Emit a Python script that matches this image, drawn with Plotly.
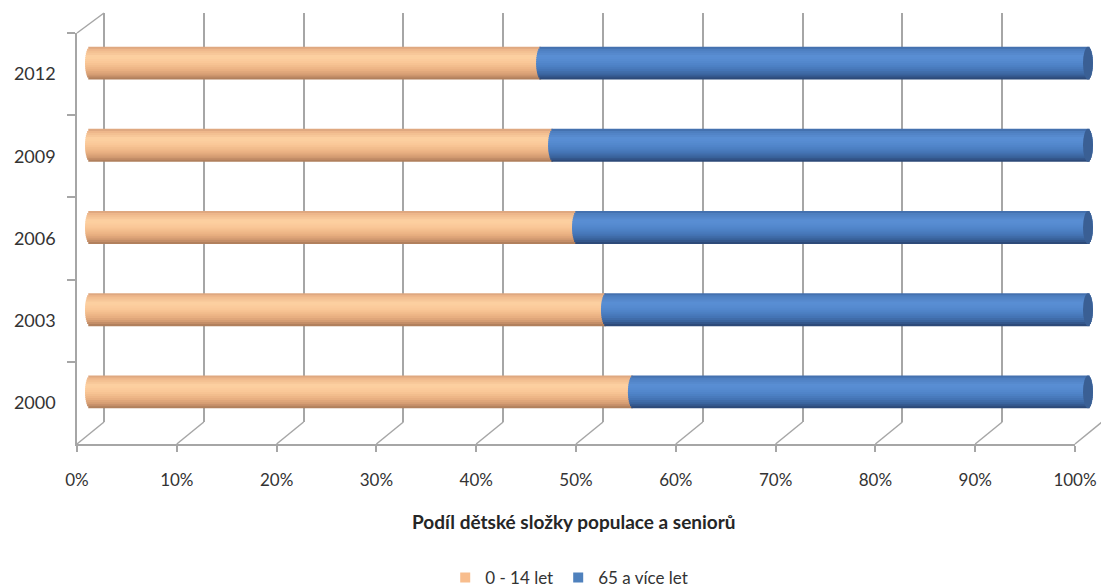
import plotly.graph_objects as go

# ---------------- data ----------------
years = ['2000', '2003', '2006', '2009', '2012']
children = [54.4, 51.7, 48.8, 46.4, 45.2]    # 0 - 14 let (% share)
seniors = [45.6, 48.3, 51.2, 53.6, 54.8]     # 65 a více let (% share)
series_names = ['0 - 14 let', '65 a více let']
x_tick_vals = [0, 10, 20, 30, 40, 50, 60, 70, 80, 90, 100]
x_tick_text = ['0%', '10%', '20%', '30%', '40%', '50%', '60%', '70%', '80%', '90%', '100%']
axis_title = 'Podíl dětské složky populace a seniorů'

# ---------------- style ----------------
W, H = 1101, 588
FONT = 'Lato'
TXT = '#333333'
GRID = '#a6a6a6'
BAR_W = 0.40      # bar thickness in category units
CAP = 0.5         # half width of the cylinder end ellipse (in % units)
NH = 8            # gradient stripes per half of the cylinder

ORANGE_STOPS = [(0.00, '#d8a07a'), (0.10, '#efb98c'), (0.30, '#fdd1a2'), (0.50, '#f9c696'),
                (0.70, '#ebb283'), (0.85, '#d49c72'), (1.00, '#a87858')]
BLUE_STOPS = [(0.00, '#3f6aa6'), (0.10, '#4f80c2'), (0.30, '#5a8fd5'), (0.50, '#5287cc'),
              (0.70, '#4677b8'), (0.85, '#3a639d'), (1.00, '#2a4470')]
LEGEND_COLORS = ['#f8bd8d', '#4f81bd']
CAP_COLOR = '#3a5f94'


def _rgb(h):
    return tuple(int(h[i:i + 2], 16) for i in (1, 3, 5))


def grad(stops, t):
    for (t0, c0), (t1, c1) in zip(stops, stops[1:]):
        if t0 <= t <= t1:
            f = (t - t0) / (t1 - t0)
            a, b = _rgb(c0), _rgb(c1)
            return 'rgb(%d,%d,%d)' % tuple(round(a[i] + (b[i] - a[i]) * f) for i in range(3))
    return stops[-1][1]


def ext(tm):
    u = 2 * tm - 1
    return CAP * max(0.0, 1 - u * u) ** 0.5


# stripes (offset, width, t_mid); t runs from the top edge (0) to the bottom edge (1)
step = 1.0 / (2 * NH)
ov = 0.5 * step
bands = []
for k in range(NH):                      # top half, drawn from the top edge towards the middle
    ta, tb = k * step, (k + 1) * step + ov
    bands.append((ta, tb, k * step + step / 2))
for j in range(NH):                      # bottom half, drawn from the bottom edge towards the middle
    tb = 1 - j * step
    ta = 1 - (j + 1) * step - (ov if j < NH - 1 else 0)
    bands.append((ta, tb, 1 - j * step - step / 2))
stripes = [(BAR_W / 2 - tb * BAR_W, (tb - ta) * BAR_W, tm) for ta, tb, tm in bands]

fig = go.Figure()

# back wall grid subplot (x / y)
fig.add_trace(go.Scatter(x=[None], y=[None], xaxis='x', yaxis='y', showlegend=False, hoverinfo='skip'))
# front axes subplot (x2 / y2)
fig.add_trace(go.Scatter(x=[c / 100 for c in children], y=years, xaxis='x2', yaxis='y2', mode='markers',
                         marker=dict(opacity=0), showlegend=False, hoverinfo='skip'))

# cylinder bars (x3 / y3)
for off, wid, tm in stripes:
    e = ext(tm)
    fig.add_trace(go.Bar(y=years, x=[c + e for c in children], base=[-e for _ in children],
                         orientation='h', offset=off, width=wid, xaxis='x3', yaxis='y3',
                         marker=dict(color=grad(ORANGE_STOPS, tm), line=dict(width=0)),
                         showlegend=False, hoverinfo='skip'))
for off, wid, tm in stripes:
    e = ext(tm)
    fig.add_trace(go.Bar(y=years, x=[s + 2 * e for s in seniors], base=[c - e for c in children],
                         orientation='h', offset=off, width=wid, xaxis='x3', yaxis='y3',
                         marker=dict(color=grad(BLUE_STOPS, tm), line=dict(width=0)),
                         showlegend=False, hoverinfo='skip'))

# legend entries
for name, col in zip(series_names, LEGEND_COLORS):
    fig.add_trace(go.Scatter(x=[None], y=[None], mode='markers', name=name, xaxis='x3', yaxis='y3',
                             marker=dict(symbol='square', size=10, color=col)))

shapes = []
# right end faces of the cylinders
for i, (c, s) in enumerate(zip(children, seniors)):
    tot = c + s
    shapes.append(dict(type='circle', xref='x3', yref='y3', x0=tot - CAP, x1=tot + CAP,
                       y0=i - BAR_W / 2, y1=i + BAR_W / 2, fillcolor=CAP_COLOR, line=dict(width=0)))

# 3D floor diagonals (front tick -> back gridline)
FX0, FX1, FYB, FYT = 77, 1075, 444, 33
BX0, BSC, BYB, BYT = 104, 9.98, 422, 13
for v in x_tick_vals:
    shapes.append(dict(type='line', xref='paper', yref='paper',
                       x0=(FX0 + (FX1 - FX0) * v / 100) / W, y0=1 - FYB / H,
                       x1=(BX0 + BSC * v) / W, y1=1 - BYB / H,
                       line=dict(color=GRID, width=1.5)))
shapes.append(dict(type='line', xref='paper', yref='paper', x0=FX0 / W, y0=1 - FYT / H,
                   x1=BX0 / W, y1=1 - BYT / H, line=dict(color=GRID, width=1.5)))

# bar axis geometry
BAR_PX0, BAR_SC = 90, 9.98
xr3 = [-1.5, 101.0]

fig.update_layout(
    width=W, height=H, margin=dict(l=0, r=0, t=0, b=0, autoexpand=False),
    paper_bgcolor='white', plot_bgcolor='rgba(0,0,0,0)',
    barmode='overlay',
    font=dict(family=FONT, color=TXT),
    xaxis=dict(domain=[(BX0 - 0.5 * BSC) / W, 1], range=[-0.5, (W - BX0) / BSC], anchor='y',
               showgrid=True, gridcolor=GRID, gridwidth=1.5, tickvals=x_tick_vals,
               showticklabels=False, ticks='', zeroline=False, showline=False, automargin=False),
    yaxis=dict(domain=[1 - BYB / H, 1 - BYT / H], range=[0, 1], anchor='x', visible=False,
               automargin=False),
    xaxis2=dict(domain=[FX0 / W, FX1 / W], range=[0, 1], anchor='y2', automargin=False,
                tickvals=[v / 100 for v in x_tick_vals], ticktext=x_tick_text,
                showline=True, linecolor=GRID, linewidth=1.5, ticks='outside', ticklen=6,
                tickwidth=1.5, tickcolor=GRID, showgrid=False, zeroline=False,
                tickfont=dict(size=17, color=TXT), ticklabelstandoff=14),
    yaxis2=dict(domain=[1 - FYB / H, 1 - FYT / H], type='category', categoryorder='array',
                categoryarray=years, range=[-0.5, 4.5], anchor='x2', automargin=False,
                showline=True, linecolor=GRID, linewidth=1.5, ticks='outside', ticklen=8,
                tickwidth=1.5, tickcolor=GRID, tickson='boundaries', showgrid=False, zeroline=False,
                tickfont=dict(size=18, color=TXT), ticklabelstandoff=16),
    xaxis3=dict(domain=[(BAR_PX0 + BAR_SC * xr3[0]) / W, (BAR_PX0 + BAR_SC * xr3[1]) / W],
                range=xr3, anchor='y3', visible=False, automargin=False),
    yaxis3=dict(domain=[1 - 433 / H, 1 - 22 / H], type='category', categoryorder='array',
                categoryarray=years, range=[-0.5, 4.5], anchor='x3', visible=False, automargin=False),
    shapes=shapes,
    annotations=[dict(text='<b>' + axis_title + '</b>', xref='paper', yref='paper',
                      x=574 / W, y=1 - 521 / H, xanchor='center', yanchor='middle', showarrow=False,
                      font=dict(family=FONT, size=19, color='#262626'))],
    legend=dict(orientation='h', x=0.517, xanchor='center', y=1 - 578 / H, yanchor='middle',
                font=dict(family=FONT, size=17, color=TXT), bgcolor='rgba(0,0,0,0)',
                traceorder='normal'),
    showlegend=True,
)

fig.write_html('out.html', config={'displayModeBar': False},
               post_script="document.body.style.margin='0';document.body.style.overflow='hidden';")
